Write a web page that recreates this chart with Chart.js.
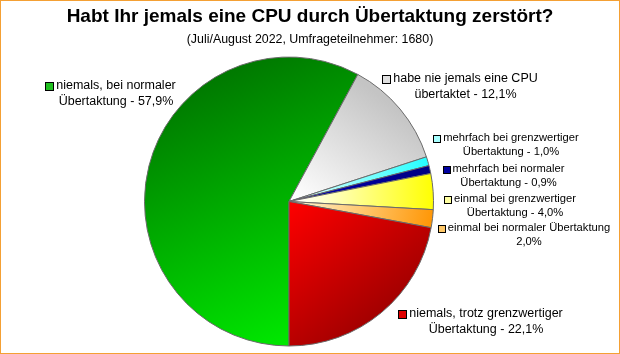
<!DOCTYPE html>
<html>
<head>
<meta charset="utf-8">
<script src="https://cdn.jsdelivr.net/npm/chart.js@4/dist/chart.umd.min.js"></script>
<style>
    html, body { margin: 0; padding: 0; background: #fff; }
    #wrap { width: 620px; height: 354px; position: relative; }
</style>
</head>
<body>
<div id="wrap"><canvas id="chart"></canvas></div>
<script>
// data
const title = 'Habt Ihr jemals eine CPU durch Übertaktung zerstört?';
const subtitle = '(Juli/August 2022, Umfrageteilnehmer: 1680)';
const categories = [
    'niemals, bei normaler\nÜbertaktung',
    'habe nie jemals eine CPU\nübertaktet',
    'mehrfach bei grenzwertiger\nÜbertaktung',
    'mehrfach bei normaler\nÜbertaktung',
    'einmal bei grenzwertiger\nÜbertaktung',
    'einmal bei normaler Übertaktung\n',
    'niemals, trotz grenzwertiger\nÜbertaktung'
];
const values = [57.9, 12.1, 1.0, 0.9, 4.0, 2.0, 22.1];

// styles: gradient start/end relative to centre (in radii) and colours
const gradients = [
    [-0.6, -0.8, 0.2, 1.0, '#007a00', '#00ee00'],
    [0.05, 0.0, 0.6, -0.75, '#ffffff', '#c4c4c4'],
    [0.1, 0.0, 1.0, -0.1, '#d8ffff', '#20ffff'],
    [0.1, 0.0, 1.0, -0.1, '#0000b0', '#000080'],
    [0.05, 0.0, 1.0, 0.0, '#ffffff', '#ffff00'],
    [0.05, 0.0, 1.0, 0.2, '#fff4d0', '#ff9400'],
    [0.0, 0.0, 0.65, 0.8, '#ff0000', '#a00000']
];
const boxColors = ['#20c020', '#e0e0e0', '#a8ffff', '#0000a0', '#ffffa0', '#ffc868', '#e00000'];
// label placement: centre x of the text lines, y of first line, font size
const labelPos = [
    [116, 86, 12.5], [465.5, 79, 12.5], [511, 138, 11.2], [508.5, 169, 11.2],
    [515, 199, 11.2], [529, 228, 11.2], [486, 314, 12.5]
];

function fmt(v) {
    return v.toFixed(1).replace('.', ',') + '%';
}

function sliceColor(ctx) {
    const chart = ctx.chart;
    const area = chart.chartArea;
    const g = gradients[ctx.dataIndex];
    if (!area) return g[5];
    const cx = (area.left + area.right) / 2;
    const cy = (area.top + area.bottom) / 2;
    const r = Math.min(area.width, area.height) / 2;
    const grad = chart.ctx.createLinearGradient(cx + g[0] * r, cy + g[1] * r, cx + g[2] * r, cy + g[3] * r);
    grad.addColorStop(0, g[4]);
    grad.addColorStop(1, g[5]);
    return grad;
}

const labelsPlugin = {
    id: 'labelsPlugin',
    afterDraw(chart) {
        const c = chart.ctx;
        c.save();
        // frame
        c.strokeStyle = '#f4a034';
        c.lineWidth = 2;
        c.strokeRect(0, 0, 620, 354);

        c.fillStyle = '#000';
        c.textAlign = 'center';
        c.textBaseline = 'alphabetic';
        c.font = 'bold 19px "Liberation Sans", Arial, sans-serif';
        c.fillText(title, 310, 22);
        c.font = '12.4px "Liberation Sans", Arial, sans-serif';
        c.fillText(subtitle, 310, 43);

        c.textBaseline = 'middle';
        categories.forEach((cat, i) => {
            const [x, y, size] = labelPos[i];
            const text = cat.endsWith('\n') ? cat + fmt(values[i]) : cat + ' - ' + fmt(values[i]);
            const lines = text.split('\n');
            const lh = size * 1.25;
            c.font = size + 'px "Liberation Sans", Arial, sans-serif';
            lines.forEach((ln, j) => {
                c.fillStyle = '#000';
                c.fillText(ln, x, y + j * lh);
            });
            const w = c.measureText(lines[0]).width;
            const bs = Math.round(size * 0.62);
            const bx = Math.round(x - w / 2 - bs - 3) + 0.5;
            const by = Math.round(y - bs / 2) + 0.5;
            c.fillStyle = boxColors[i];
            c.fillRect(bx, by, bs, bs);
            c.strokeStyle = '#000';
            c.lineWidth = 1;
            c.strokeRect(bx, by, bs, bs);
        });
        c.restore();
    }
};

const ctx = document.getElementById('chart');

new Chart(ctx, {
    type: 'pie',
    data: {
        labels: categories,
        datasets: [{
            data: values,
            backgroundColor: sliceColor,
            borderColor: '#6a6a6a',
            borderWidth: 1
        }]
    },
    options: {
        responsive: true,
        maintainAspectRatio: false,
        animation: false,
        rotation: 180,
        layout: { padding: { top: 56, bottom: 7, left: 144, right: 186 } },
        plugins: {
            legend: { display: false },
            tooltip: { enabled: false }
        }
    },
    plugins: [labelsPlugin]
});
</script>
</body>
</html>
